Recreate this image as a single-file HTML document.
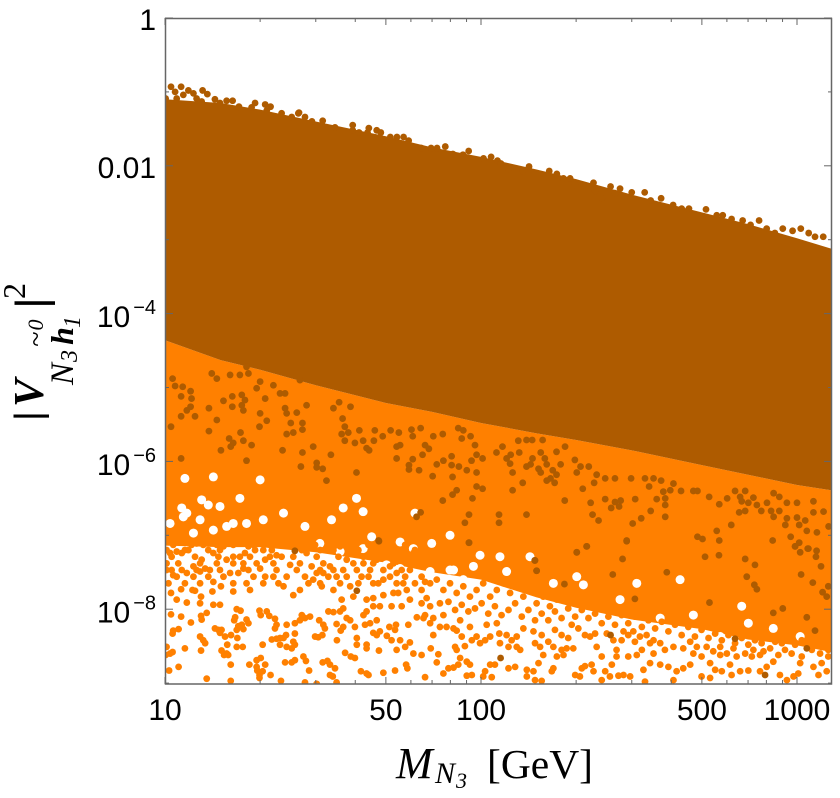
<!DOCTYPE html>
<html lang="en">
<head>
<meta charset="utf-8">
<title>Mixing versus mass scatter plot</title>
<style>
html,body{margin:0;padding:0;background:#fff;width:840px;height:798px;overflow:hidden}
svg{display:block}
.tick-label{font-family:"Liberation Sans",sans-serif;font-size:30px;fill:#000}
.serif{font-family:"Liberation Serif",serif;fill:#000}
</style>
</head>
<body>
<svg id="chart" width="840" height="798" viewBox="0 0 840 798" xmlns="http://www.w3.org/2000/svg">
<defs><clipPath id="plot-clip"><rect x="165" y="18" width="667" height="666"/></clipPath></defs>
<rect width="840" height="798" fill="#fff"/>
<g id="marks" clip-path="url(#plot-clip)"></g>
<g id="ticks"></g>
<rect x="165.5" y="18.5" width="666" height="665.5" fill="none" stroke="#666" stroke-width="1.5"/>
<g id="labels"></g>
<g class="serif">
<text x="396" y="778" font-size="44" font-style="italic" class="serif">M</text>
<text x="435" y="783" font-size="30" font-style="italic" class="serif">N</text>
<text x="456" y="788" font-size="22" font-style="italic" class="serif">3</text>
<text x="487" y="778" font-size="41.5" class="serif">[GeV]</text>
</g>
<g>
<text transform="translate(41,416) rotate(-90)" text-anchor="middle" font-size="38" font-family="Liberation Sans,sans-serif">|</text>
<text transform="translate(43,407) rotate(-90)" font-size="42" font-style="italic" font-weight="bold" class="serif">V</text>
<text transform="translate(73,385) rotate(-90)" font-size="33" font-style="italic" class="serif">N</text>
<text transform="translate(77,362) rotate(-90)" font-size="24" font-style="italic" class="serif">3</text>
<text transform="translate(45,339) rotate(-90)" text-anchor="middle" font-size="28" class="serif">~</text>
<text transform="translate(43,325) rotate(-90)" text-anchor="middle" font-size="22" font-style="italic" class="serif">0</text>
<text transform="translate(73,336) rotate(-90)" text-anchor="middle" font-size="32" font-style="italic" font-weight="bold" class="serif">h</text>
<text transform="translate(80,322) rotate(-90)" text-anchor="middle" font-size="24" font-style="italic" class="serif">1</text>
<text transform="translate(46,303) rotate(-90)" text-anchor="middle" font-size="44" font-family="Liberation Sans,sans-serif">|</text>
<text transform="translate(25,291) rotate(-90)" text-anchor="middle" font-size="32" class="serif">2</text>
</g>
</svg>
<script>
const massGrid = [10,15,20,30,50,70,100,150,200,300,500,700,1000,1282];
const brownUpperLog = [-1.10,-1.15,-1.24,-1.40,-1.60,-1.75,-1.88,-2.05,-2.18,-2.39,-2.63,-2.79,-2.98,-3.12];
const brownLowerLog = [-4.36,-4.63,-4.76,-4.97,-5.21,-5.33,-5.48,-5.62,-5.71,-5.85,-6.05,-6.18,-6.32,-6.39];
const orangeLowerLog = [-7.14,-7.16,-7.16,-7.23,-7.37,-7.50,-7.60,-7.84,-7.98,-8.14,-8.27,-8.41,-8.49,-8.58];
const xMajorTicks = [10,50,100,500,1000];
const xMinorTicks = [20,30,40,60,70,80,90,200,300,400,600,700,800,900];
const yMajorExps = [0,-2,-4,-6,-8];
const yMinorExps = [-1,-3,-5,-7,-9];
const gapLogMass = [
1.063,1.116,1.137,1.237,1.053,1.016,1.069,1.174,1.216,1.258,1.311,1.375,1.111,1.153,1.301,1.058,1.195,1.153,1.090,
1.606,1.564,1.527,1.627,1.443,1.490,1.554,1.627,1.654,1.744,1.791,1.786,1.844,1.701,1.744,1.490,1.575,1.664,1.817,1.902,1.976,2.060,2.081,2.155,1.438,2.303,1.997,1.902,
1.913,1.944,1.839,1.971,2.071,2.092,2.229,2.324,2.440,2.493,2.630,2.567,2.672,2.825,2.846,2.925,3.010,2.757,2.482
];
const gapLogCoupling = [
-6.23,-6.52,-6.59,-6.50,-6.63,-6.84,-6.70,-6.61,-6.84,-6.84,-6.79,-6.70,-6.79,-6.21,-6.25,-6.75,-6.88,-6.93,-6.97,
-6.50,-6.63,-6.79,-6.68,-6.88,-7.11,-7.22,-7.18,-7.02,-7.09,-6.70,-7.18,-7.11,-7.40,-7.45,-7.49,-7.51,-7.54,-7.54,-7.47,-7.42,-7.29,-7.49,-7.29,-7.38,-7.56,-7.27,-7.00,
-7.47,-7.60,-7.49,-7.85,-8.03,-8.01,-7.65,-7.67,-7.87,-7.65,-7.60,-8.12,-8.08,-7.96,-8.19,-8.26,-8.37,-8.37,-8.21
];
const orangeLogMass = [
1.019,1.051,1.087,1.095,1.114,1.153,1.150,1.177,1.216,1.037,1.069,1.111,1.153,1.174,1.132,1.114,1.116,1.019,1.051,1.082,1.227,1.239,1.222,1.219,1.258,1.264,1.299,1.303,1.322,1.330,1.348,1.026,1.043,1.024,1.158,1.169,1.179,1.174,1.111,1.121,1.127,1.209,1.190,1.229,1.232,1.243,1.227,1.248,1.353,1.348,1.385,1.411,1.427,1.433,1.443,1.459,1.488,1.501,1.506,1.498,1.475,1.485,1.411,1.383,1.364,1.338,1.353,1.375,1.406,1.411,1.401,1.385,1.364,1.309,1.227,1.246,1.197,1.179,1.195,1.187,1.200,1.114,1.063,1.024,1.016,1.005,1.002,1.013,1.043,1.132,1.208,1.208,1.267,1.290,1.303,1.317,1.290,1.292,1.309,1.299,1.299,1.334,1.367,1.380,1.401,1.411,1.438,1.446,1.456,1.499,1.514,1.522,1.538,1.522,1.531,1.543,1.443,1.480,1.544,1.570,1.588,1.601,1.607,1.607,1.638,1.638,1.677,1.620,1.638,1.644,1.691,1.728,1.763,1.767,1.786,1.760,1.733,1.717,1.670,1.659,1.680,1.702,1.710,1.731,1.728,1.744,1.775,1.770,1.797,1.670,1.649,1.633,1.601,1.586,1.575,1.556,1.564,1.543,1.517,1.533,1.554,1.564,1.628,1.638,1.659,1.680,1.717,1.749,1.691,1.723,1.659,1.638,1.596,
1.016,1.037,1.005,1.021,1.026,1.053,1.063,1.084,1.100,1.090,1.069,1.111,1.127,1.142,1.116,1.153,1.164,1.185,1.195,1.216,1.237,1.253,1.206,1.232,1.248,1.264,1.280,1.311,1.317,1.301,1.317,1.258,1.269,1.353,1.396,1.406,1.427,1.448,1.464,1.480,1.469,1.501,1.522,1.543,1.564,1.575,1.596,1.628,1.649,1.670,1.691,1.712,1.733,1.754,1.775,1.786,1.533,1.554,1.491,1.375,1.343,1.375,1.406,1.427,1.454,1.496,1.533,1.559,1.586,1.622,1.659,1.691,1.733,1.765,1.791,1.775,1.738,
1.823,1.812,1.828,1.823,1.839,1.818,1.870,1.849,1.891,1.913,1.923,1.939,1.918,1.923,1.949,1.971,1.986,1.997,2.013,2.029,1.841,1.812,1.865,1.860,1.823,1.881,1.897,1.913,1.934,1.928,1.955,1.965,1.955,1.971,2.013,2.029,2.044,2.007,2.034,2.058,2.060,2.081,2.097,2.113,2.087,2.113,2.124,2.087,2.108,2.145,2.166,2.182,2.197,2.171,2.187,2.213,2.229,2.255,2.271,2.292,2.240,2.261,2.229,2.224,2.171,2.192,2.145,2.298,2.319,2.329,2.350,2.313,2.356,2.382,2.366,2.329,2.345,2.361,2.308,2.287,2.429,2.429,2.414,2.393,2.408,2.435,2.451,2.472,2.466,2.493,2.509,2.487,2.466,2.451,2.524,2.546,2.567,2.582,2.546,2.535,2.514,2.567,2.593,2.619,2.640,2.662,2.672,2.698,2.714,2.735,2.757,2.778,2.725,2.741,2.762,2.788,2.809,2.836,2.857,2.883,2.915,2.941,2.962,2.983,3.010,2.925,2.904,2.883,2.846,2.820,2.793,2.946,2.968,2.989,3.052,3.078,3.094,3.068,3.004,2.698,2.725,3.015,3.047,3.073,3.099,2.519,2.382,2.609,
1.026,1.121,1.216,1.332,1.396,1.475,1.591,1.644,1.717,1.760,
1.005,1.074,1.137,1.174,1.285,1.338,1.433,1.517,1.612,1.670,1.733,1.791,
1.021,1.095,1.169,1.216,1.269,1.332,1.369,1.480,1.549,1.628,1.702,1.770,
1.042,1.111,1.164,1.248,1.290,1.343,1.427,1.501,1.596,1.659,1.723,1.791,
1.005,1.053,1.100,1.174,1.264,1.353,1.417,1.491,1.533,1.607,1.691,1.749,
1.037,1.090,1.137,1.185,1.280,1.385,1.443,1.517,1.575,1.644,1.712,1.760,
1.011,1.063,1.111,1.216,1.311,1.359,1.491,1.554,1.612,1.675,1.754,
1.812,1.839,1.860,1.881,1.902,1.923,1.944,1.965,1.986,2.007,2.029,2.050,2.071,2.092,2.113,2.134,2.155,2.176,2.197,2.218,2.240,
1.812,1.839,1.870,1.897,1.918,1.939,1.960,1.981,2.002,2.023,2.044,2.065,2.087,2.108,2.129,2.150,2.171,2.192,2.213,2.234,2.255,2.276,2.298,2.319,2.340,2.361,2.382,2.403,2.424,2.445,2.466,2.487,2.509,2.530,2.551,2.572,2.593,2.614,2.635,2.656,2.677,2.698,2.720,2.741,2.762,2.783,2.804,2.825,2.846,2.867,2.888,2.909,2.931,2.952,2.973,2.994,3.015,3.036,3.057,3.078,3.099,
1.881,1.934,2.018,1.965,1.849,2.050,2.134,2.166,2.192,2.234,2.255,2.276,2.398,2.419,2.445,2.482,2.503,2.535,2.609,2.640,2.662,2.683,2.757,2.799,2.862,2.894
];
const orangeLogCoupling = [
-7.78,-7.73,-7.74,-7.75,-7.83,-7.63,-7.76,-7.69,-7.76,-7.87,-7.91,-7.92,-7.94,-7.94,-8.05,-8.09,-8.14,-8.07,-8.10,-8.18,-8.00,-8.02,-8.11,-8.15,-8.14,-8.19,-8.02,-8.08,-8.03,-8.09,-8.13,-8.29,-8.27,-8.33,-8.26,-8.28,-8.28,-8.32,-8.37,-8.42,-8.46,-8.35,-8.37,-8.39,-8.23,-8.21,-8.28,-8.27,-8.21,-8.26,-8.21,-8.19,-8.15,-8.08,-8.12,-8.10,-8.15,-8.21,-8.26,-8.35,-8.37,-8.38,-8.33,-8.35,-8.39,-8.41,-8.40,-8.39,-8.44,-8.48,-8.53,-8.51,-8.48,-8.48,-8.51,-8.51,-8.48,-8.56,-8.60,-8.62,-8.62,-8.56,-8.53,-8.58,-8.60,-8.51,-8.62,-8.83,-8.78,-8.94,-8.75,-8.97,-8.75,-8.69,-8.66,-8.75,-8.78,-8.83,-8.84,-8.89,-8.93,-8.89,-8.97,-8.72,-8.72,-8.69,-8.64,-8.70,-8.83,-8.72,-8.70,-8.75,-8.80,-8.89,-8.91,-8.99,-8.99,-9.01,-8.42,-8.59,-8.64,-8.66,-8.39,-8.48,-8.48,-8.53,-8.56,-8.84,-8.87,-8.89,-8.86,-8.83,-8.75,-8.80,-8.60,-8.51,-8.55,-8.42,-8.35,-8.32,-8.30,-8.36,-8.24,-8.21,-8.28,-8.42,-8.45,-8.21,-8.11,-8.15,-8.19,-8.21,-8.24,-8.15,-8.12,-8.29,-8.24,-8.20,-8.03,-8.04,-8.03,-7.99,-8.08,-8.03,-7.96,-7.96,-7.96,-7.96,-7.81,-7.78,-7.85,-7.87,-7.83,
-7.24,-7.22,-7.38,-7.47,-7.54,-7.24,-7.20,-7.13,-7.11,-7.42,-7.51,-7.49,-7.45,-7.47,-7.33,-7.24,-7.13,-7.15,-7.33,-7.38,-7.29,-7.24,-7.51,-7.51,-7.45,-7.15,-7.13,-7.20,-7.33,-7.45,-7.56,-7.65,-7.74,-7.27,-7.40,-7.29,-7.15,-7.24,-7.42,-7.51,-7.60,-7.51,-7.42,-7.56,-7.47,-7.33,-7.24,-7.38,-7.47,-7.33,-7.27,-7.42,-7.51,-7.33,-7.47,-7.24,-7.20,-7.15,-7.20,-7.11,-7.56,-7.69,-7.81,-7.74,-7.65,-7.69,-7.74,-7.87,-7.69,-7.56,-7.65,-7.60,-7.65,-7.74,-7.65,-7.87,-7.78,
-7.63,-7.74,-7.85,-8.08,-8.19,-8.12,-8.24,-8.35,-8.24,-8.26,-8.29,-8.37,-8.51,-8.55,-8.50,-8.42,-8.37,-8.46,-8.42,-8.37,-8.53,-8.62,-8.61,-8.72,-8.92,-8.87,-8.80,-8.79,-8.66,-8.75,-8.71,-8.75,-8.90,-8.89,-8.84,-8.75,-8.75,-8.91,-8.92,-8.33,-8.46,-8.35,-8.42,-8.37,-8.51,-8.51,-8.55,-8.80,-8.78,-8.82,-8.84,-8.73,-8.62,-8.46,-8.51,-8.44,-8.51,-8.55,-8.53,-8.53,-8.64,-8.62,-8.80,-8.84,-8.96,-8.97,-8.91,-8.89,-8.80,-8.77,-8.75,-8.91,-8.84,-8.64,-8.51,-8.35,-8.37,-8.33,-8.26,-8.21,-8.55,-8.64,-8.75,-8.84,-8.91,-8.90,-8.89,-8.91,-8.64,-8.62,-8.55,-8.44,-8.35,-8.30,-8.35,-8.42,-8.46,-8.55,-8.60,-8.73,-8.82,-8.75,-8.78,-8.84,-8.80,-8.75,-8.60,-8.64,-8.51,-8.57,-8.62,-8.60,-8.73,-8.82,-8.84,-8.75,-8.64,-8.60,-8.64,-8.62,-8.53,-8.62,-8.55,-8.60,-8.73,-8.71,-8.78,-8.84,-8.83,-8.84,-8.89,-8.89,-8.96,-8.91,-8.78,-8.73,-8.84,-8.89,-8.87,-8.91,-8.93,-8.64,-8.55,-8.60,-8.64,-8.98,-8.96,-8.96,
-7.13,-7.13,-7.13,-7.13,-7.13,-7.13,-7.13,-7.13,-7.13,-7.13,
-7.20,-7.20,-7.20,-7.20,-7.20,-7.20,-7.20,-7.20,-7.20,-7.20,-7.20,-7.20,
-7.29,-7.29,-7.29,-7.29,-7.29,-7.29,-7.29,-7.29,-7.29,-7.29,-7.29,-7.29,
-7.38,-7.38,-7.38,-7.38,-7.38,-7.38,-7.38,-7.38,-7.38,-7.38,-7.38,-7.38,
-7.47,-7.47,-7.47,-7.47,-7.47,-7.47,-7.47,-7.47,-7.47,-7.47,-7.47,-7.47,
-7.56,-7.56,-7.56,-7.56,-7.56,-7.56,-7.56,-7.56,-7.56,-7.56,-7.56,-7.56,
-7.65,-7.65,-7.65,-7.65,-7.65,-7.65,-7.65,-7.65,-7.65,-7.65,-7.65,
-7.56,-7.65,-7.60,-7.74,-7.65,-7.78,-7.69,-7.83,-7.74,-7.65,-7.83,-7.74,-7.65,-7.78,-7.69,-7.83,-7.74,-7.92,-7.83,-7.96,-7.87,
-7.92,-7.96,-7.92,-7.90,-8.01,-7.94,-8.03,-7.99,-7.92,-8.06,-7.96,-8.08,-8.01,-7.92,-8.10,-8.01,-8.15,-8.06,-8.15,-8.03,-8.12,-7.99,-8.10,-8.01,-8.12,-8.06,-8.19,-8.10,-8.21,-8.08,-8.19,-8.10,-8.24,-8.15,-8.26,-8.17,-8.30,-8.21,-8.35,-8.24,-8.37,-8.28,-8.39,-8.33,-8.42,-8.35,-8.46,-8.39,-8.48,-8.42,-8.46,-8.39,-8.44,-8.46,-8.42,-8.48,-8.42,-8.51,-8.46,-8.51,-8.55,
-8.08,-8.15,-8.21,-8.24,-8.12,-8.19,-8.26,-8.30,-8.35,-8.28,-8.35,-8.39,-8.33,-8.42,-8.42,-8.30,-8.37,-8.46,-8.51,-8.53,-8.44,-8.51,-8.51,-8.53,-8.55,-8.57
];
const brownLogMass = [
1.024,1.032,1.056,1.051,1.081,1.084,1.081,1.069,1.051,1.095,1.019,1.139,1.164,1.139,1.185,1.213,1.213,1.243,1.253,1.243,1.248,1.301,1.299,1.322,1.317,1.380,1.385,1.398,1.417,1.385,1.406,1.372,1.239,1.248,1.274,1.203,1.216,1.208,1.177,1.258,1.051,1.148,1.164,1.206,1.237,1.264,1.258,1.290,1.301,1.343,1.364,1.380,1.427,
1.448,1.533,1.551,1.587,1.562,1.569,1.435,1.435,1.559,1.580,1.569,1.601,1.615,1.627,1.664,1.661,1.689,1.714,1.740,1.784,1.780,1.809,1.849,1.879,1.928,1.944,1.469,1.435,1.525,1.480,1.480,1.499,1.430,1.511,1.606,1.638,1.646,1.733,1.744,1.733,1.784,1.815,1.823,1.835,1.772,1.772,1.804,1.860,1.881,1.847,1.907,1.907,1.930,1.910,1.955,1.986,1.970,1.986,2.005,2.049,2.081,2.094,2.092,2.100,2.132,2.121,2.163,2.144,2.157,2.189,2.202,2.208,2.182,2.189,2.227,2.239,2.208,2.220,2.233,2.252,2.297,2.303,2.315,2.341,2.366,2.358,2.322,2.265,2.347,2.353,2.372,2.100,1.986,2.005,1.923,1.910,1.879,1.973,1.809,1.796,1.962,1.949,2.057,2.057,2.144,1.962,1.676,2.334,2.303,2.170,2.176,1.939,1.981,1.967,2.068,2.118,2.144,2.162,2.195,2.239,2.266,
1.962,2.171,2.176,2.303,2.335,2.461,2.448,2.417,2.264,2.487,2.588,2.410,2.062,2.709,2.753,2.836,2.867,2.841,2.865,2.873,2.723,2.925,2.955,3.031,3.057,3.031,2.804,2.899,3.013,3.050,3.081,3.094,3.099,2.994,3.010,3.036,3.062,3.060,3.076,1.411,1.677,1.607,
2.393,2.424,2.475,2.519,2.546,2.570,2.532,2.609,2.599,2.577,2.633,2.672,2.685,2.722,2.393,2.424,2.442,2.437,2.412,2.488,2.556,2.583,2.583,2.537,2.507,2.480,2.583,2.754,2.779,2.804,2.836,2.820,2.825,2.846,2.862,2.873,2.887,2.905,2.926,2.944,2.968,3.000,3.052,2.817,2.836,2.918,2.926,2.944,2.968,3.000,3.026,3.052,3.084,2.792,2.746,2.754,2.685,2.701,2.461,2.923,2.963,3.007,3.031,3.063,2.980,3.007,2.994,3.034,3.100,
1.424,1.443,1.401,1.465,1.499,1.538,1.594,1.594,1.645,1.641,1.670,1.683,1.614,1.734,1.755,1.713,1.771,1.811,1.842,1.861,1.887,1.911,1.961,1.943,2.032,2.008,2.052,2.152,2.087,2.216,2.063,2.132,2.240,
1.002,1.019,1.051,1.032,1.074,1.090,1.119,1.134,1.100,1.158,1.195,1.214,1.116,1.285,1.317,1.334,1.322,1.234,1.369,1.274,1.422,1.174,1.037,1.058,
2.261,2.282,2.297,2.324,2.356,2.361,2.410,2.440,2.477,2.518,2.537,2.570,2.608,2.635,2.658,2.712,2.746,2.765,2.793,2.828,2.880,2.853,2.955,3.012,2.986,3.037,3.083,3.057,2.930,2.904,2.382,2.424
];
const brownLogCoupling = [
-4.88,-4.98,-4.99,-5.12,-5.05,-5.15,-5.26,-5.31,-5.39,-5.39,-5.53,-5.28,-5.44,-5.59,-5.18,-5.12,-5.26,-5.10,-5.17,-5.24,-5.31,-5.35,-5.53,-5.45,-5.15,-5.28,-5.35,-5.48,-5.34,-5.63,-5.61,-5.85,-5.61,-5.72,-5.78,-5.69,-5.75,-5.80,-5.85,-5.99,-5.96,-4.81,-4.88,-4.83,-4.83,-4.81,-4.72,-5.01,-4.92,-4.97,-5.08,-5.08,-4.90,
-5.24,-5.28,-5.20,-5.26,-5.42,-5.53,-5.48,-5.57,-5.63,-5.61,-5.72,-5.75,-5.58,-5.72,-5.58,-5.72,-5.66,-5.58,-5.61,-5.66,-5.57,-5.55,-5.66,-5.63,-5.55,-5.58,-5.80,-5.88,-5.91,-6.02,-6.08,-6.10,-6.07,-6.26,-6.15,-5.82,-5.85,-5.96,-5.78,-5.80,-5.97,-5.91,-5.78,-5.83,-6.05,-6.11,-6.12,-6.04,-5.99,-6.20,-5.93,-6.05,-6.07,-6.21,-6.12,-6.15,-5.99,-5.91,-5.96,-5.88,-5.96,-5.91,-6.03,-6.15,-6.29,-5.88,-5.96,-6.07,-6.04,-5.88,-5.96,-6.04,-6.10,-6.15,-6.12,-6.18,-6.26,-6.23,-6.29,-6.04,-5.98,-6.15,-6.07,-6.07,-6.18,-6.29,-6.37,-6.53,-6.56,-6.72,-6.80,-6.39,-6.34,-6.37,-6.39,-6.45,-6.53,-6.50,-6.69,-6.75,-6.72,-6.83,-6.72,-6.83,-6.72,-7.10,-7.07,-7.15,-7.23,-7.34,-7.48,-5.69,-5.78,-5.66,-5.80,-5.72,-5.71,-5.71,-5.71,-5.87,-5.80,
-7.10,-7.34,-7.48,-7.23,-7.15,-7.08,-7.32,-7.53,-7.66,-7.86,-7.50,-8.35,-8.66,-7.29,-7.27,-7.32,-7.40,-7.56,-7.67,-7.73,-7.91,-8.05,-7.99,-8.11,-8.29,-8.53,-8.40,-8.89,-7.53,-7.64,-7.77,-7.83,-7.69,-7.15,-7.23,-7.18,-7.21,-7.29,-7.42,-7.21,-7.08,-7.75,
-6.23,-6.23,-6.23,-6.23,-6.23,-6.26,-6.34,-6.30,-6.39,-6.41,-6.40,-6.40,-6.40,-6.48,-6.51,-6.55,-6.53,-6.61,-6.63,-6.51,-6.51,-6.50,-6.59,-6.67,-6.77,-6.84,-6.75,-6.58,-6.50,-6.40,-6.40,-6.48,-6.54,-6.56,-6.49,-6.59,-6.67,-6.56,-6.43,-6.48,-6.56,-6.56,-6.54,-6.69,-6.67,-6.67,-6.75,-6.67,-6.77,-6.76,-6.80,-6.69,-6.68,-6.86,-6.94,-7.07,-7.02,-7.05,-7.07,-7.07,-6.86,-6.86,-6.94,-6.96,-7.02,-7.10,-7.15,-7.18,-6.88,
-1.28,-1.34,-1.34,-1.40,-1.39,-1.48,-1.45,-1.52,-1.49,-1.55,-1.52,-1.55,-1.55,-1.61,-1.61,-1.61,-1.66,-1.76,-1.76,-1.76,-1.74,-1.84,-1.80,-1.85,-1.88,-1.90,-1.93,-2.01,-2.04,-2.07,-1.97,-2.07,-2.11,
-1.09,-0.93,-0.93,-1.00,-0.98,-1.02,-0.98,-1.03,-1.09,-1.10,-1.12,-1.12,-1.13,-1.15,-1.17,-1.20,-1.25,-1.20,-1.29,-1.21,-1.29,-1.15,-1.09,-1.04,
-2.17,-2.17,-2.26,-2.26,-2.23,-2.34,-2.28,-2.31,-2.36,-2.36,-2.47,-2.44,-2.53,-2.58,-2.58,-2.59,-2.67,-2.67,-2.72,-2.74,-2.74,-2.80,-2.85,-2.85,-2.88,-2.91,-2.96,-2.96,-2.91,-2.85,-2.44,-2.37
];

const NS = 'http://www.w3.org/2000/svg';
const ORANGE = '#ff8000';
const BROWN = '#ae5b00';
function xScale(mass) { return 165 + 316 * (Math.log10(mass) - 1); }
function yScale(logValue) { return 18 - 73.9 * logValue; }
const marks = document.getElementById('marks');
const ticks = document.getElementById('ticks');
const labels = document.getElementById('labels');

function drawBand(upper, lower, fill, name) {
  const top = massGrid.map((m, i) => xScale(m) + ',' + yScale(upper[i]));
  const bottom = massGrid.map((m, i) => xScale(m) + ',' + yScale(lower[i])).reverse();
  const band = document.createElementNS(NS, 'polygon');
  band.setAttribute('points', top.concat(bottom).join(' '));
  band.setAttribute('fill', fill);
  
  
  marks.appendChild(band);
}
function drawDots(logMass, logCoupling, fill, name, radius) {
  logMass.forEach((lm, i) => {
    if (logCoupling[i] === undefined) return;
    const dot = document.createElementNS(NS, 'circle');
    dot.setAttribute('cx', xScale(Math.pow(10, lm)));
    dot.setAttribute('cy', yScale(logCoupling[i]));
    dot.setAttribute('r', radius);
    dot.setAttribute('fill', fill);
    
    
    marks.appendChild(dot);
  });
}
drawBand(brownLowerLog, orangeLowerLog, ORANGE, 'orange-dense-region');
drawDots(gapLogMass, gapLogCoupling, '#fff', 'orange-region-gap', 4.5);
drawDots(orangeLogMass, orangeLogCoupling, ORANGE, 'orange-point', 3.4);
drawBand(brownUpperLog, brownLowerLog, BROWN, 'brown-dense-region');
drawDots(brownLogMass, brownLogCoupling, BROWN, 'brown-point', 3.4);

function tickLine(x1, y1, x2, y2, name) {
  const t = document.createElementNS(NS, 'line');
  t.setAttribute('x1', x1);
  t.setAttribute('y1', y1);
  t.setAttribute('x2', x2);
  t.setAttribute('y2', y2);
  t.setAttribute('stroke', '#666');
  t.setAttribute('stroke-width', 1);
  
  
  ticks.appendChild(t);
}
xMajorTicks.forEach(m => {
  tickLine(xScale(m), 684, xScale(m), 677, 'x-major-tick');
  tickLine(xScale(m), 18, xScale(m), 25, 'x-major-tick-top');
  const label = document.createElementNS(NS, 'text');
  label.setAttribute('x', xScale(m));
  label.setAttribute('y', 720);
  label.setAttribute('text-anchor', 'middle');
  label.setAttribute('class', 'tick-label');
  
  
  label.textContent = String(m);
  labels.appendChild(label);
});
xMinorTicks.forEach(m => {
  tickLine(xScale(m), 684, xScale(m), 680, 'x-minor-tick');
  tickLine(xScale(m), 18, xScale(m), 22, 'x-minor-tick-top');
});
yMajorExps.forEach(e => {
  tickLine(165, yScale(e), 173, yScale(e), 'y-major-tick');
  tickLine(832, yScale(e), 824, yScale(e), 'y-major-tick-right');
  const label = document.createElementNS(NS, 'text');
  label.setAttribute('x', 156);
  label.setAttribute('y', yScale(e) + (e >= -2 ? 12 : 13.5));
  label.setAttribute('text-anchor', 'end');
  label.setAttribute('class', 'tick-label');
  
  
  if (e === 0) {
    label.textContent = '1';
  } else if (e === -2) {
    label.textContent = '0.01';
  } else {
    const sup = document.createElementNS(NS, 'tspan');
    sup.setAttribute('font-size', '20');
    sup.setAttribute('dy', '-13');
    sup.setAttribute('dx', '3');
    sup.textContent = '\u2212' + Math.abs(e);
    label.textContent = '10';
    label.appendChild(sup);
  }
  labels.appendChild(label);
});
yMinorExps.forEach(e => {
  tickLine(165, yScale(e), 169, yScale(e), 'y-minor-tick');
  tickLine(832, yScale(e), 828, yScale(e), 'y-minor-tick-right');
});
</script>
</body>
</html>
